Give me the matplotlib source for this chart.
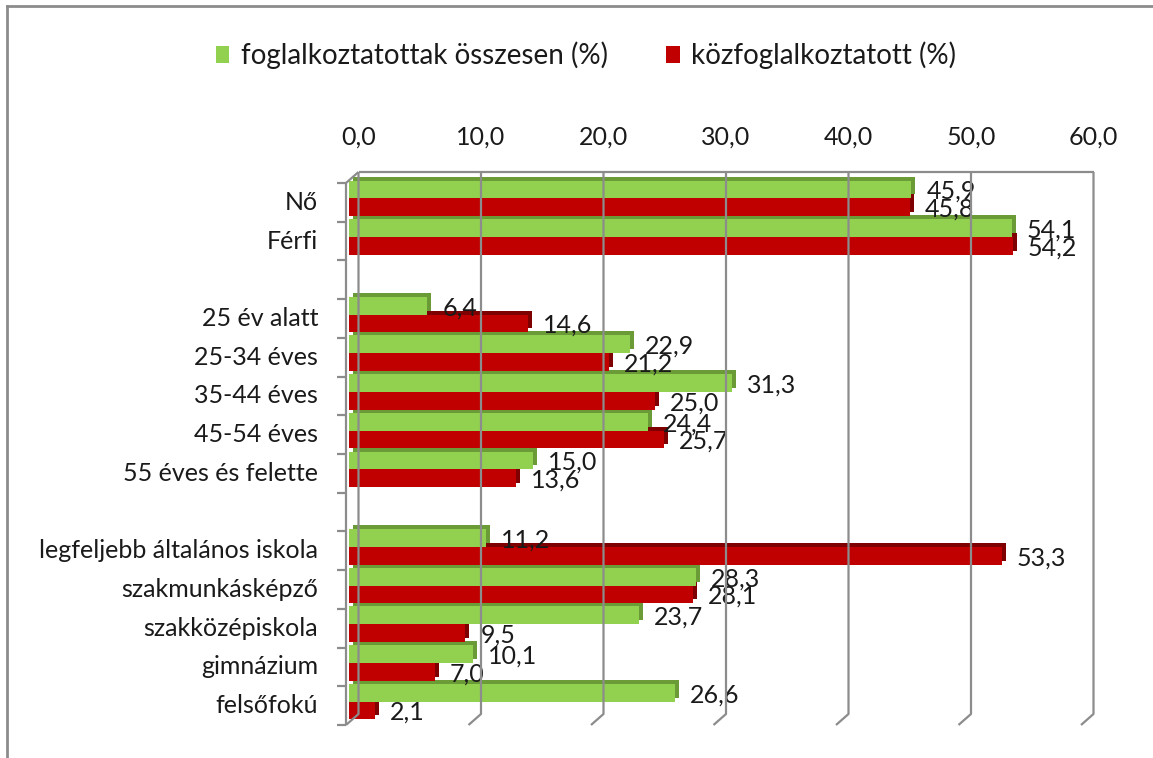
import matplotlib
matplotlib.use("Agg")
import matplotlib.pyplot as plt
from matplotlib.transforms import ScaledTranslation
from matplotlib.patches import Patch
from matplotlib.lines import Line2D

plt.rcParams['font.family'] = ['Lato', 'DejaVu Sans']

categories = ["Nő", "Férfi", "", "25 év alatt", "25-34 éves", "35-44 éves",
              "45-54 éves", "55 éves és felette", "",
              "legfeljebb általános iskola", "szakmunkásképző", "szakközépiskola",
              "gimnázium", "felsőfokú"]
total = [45.9, 54.1, None, 6.4, 22.9, 31.3, 24.4, 15.0, None,
         11.2, 28.3, 23.7, 10.1, 26.6]
public = [45.8, 54.2, None, 14.6, 21.2, 25.0, 25.7, 13.6, None,
          53.3, 28.1, 9.5, 7.0, 2.1]
series_names = ["foglalkoztatottak összesen (%)", "közfoglalkoztatott (%)"]
xticks = [0, 10, 20, 30, 40, 50, 60]

W, H, DPI = 1153, 758, 100
GREEN, GREEN_D = '#92D050', '#6A9B36'
RED, RED_D = '#C00000', '#7E0000'
GRID = '#8C8C8C'
FS = 18

fig = plt.figure(figsize=(W / DPI, H / DPI), dpi=DPI)
ax = fig.add_axes([349 / W, 1 - 721 / H, 735 / W, 542 / H])
n = len(categories)
ax.set_xlim(0, 60)
ax.set_ylim(n - 0.5, -0.5)
ax.axis('off')


def px(dx, dy):
    return ScaledTranslation(dx / DPI, dy / DPI, fig.dpi_scale_trans)


h = 0.46
depth = px(4, 4)
for i in reversed(range(n)):
    z = 10 + (n - i) * 4
    for k, (vals, c, cd, off) in enumerate([(public, RED, RED_D, 0.23),
                                             (total, GREEN, GREEN_D, -0.23)]):
        v = vals[i]
        if v is None:
            continue
        y = i + off
        ax.barh([y], [v], height=h, color=cd, linewidth=0,
                transform=ax.transData + depth, zorder=z + 2 * k, clip_on=False)
        ax.barh([y], [v], height=h, color=c, linewidth=0,
                zorder=z + 2 * k + 1, clip_on=False)
        lab = f"{v:.1f}".replace('.', ',')
        ax.text(v, y, lab, fontsize=FS, ha='left', va='center',
                transform=ax.transData + px(15, -2), zorder=200, color='#1a1a1a')

# decorative 3D frame (pixel coordinates derived from the axes transform)
def to_px(xd, yd):
    X, Y = ax.transData.transform((xd, yd))
    return X, H - Y


def line_px(pts, **kw):
    xs = [p[0] for p in pts]
    ys = [H - p[1] for p in pts]
    fig.add_artist(Line2D(xs, ys, transform=None, color=GRID, lw=1.6,
                          solid_capstyle='butt', zorder=1, **kw))


x0, ytop = to_px(0, -0.5)
x60, ybot = to_px(60, n - 0.5)
BX, BY = 9.5, -7
FX, FY = -3, 4
for t in xticks:
    xt, _ = to_px(t, 0)
    line_px([(xt + BX, ytop + BY), (xt + BX, ybot + BY), (xt + FX, ybot + FY)])
    ax.text(t, -0.5, f"{t:.1f}".replace('.', ','), fontsize=FS, ha='center',
            va='center', transform=ax.transData + px(BX, 42), color='#1a1a1a')
line_px([(x0 + BX, ytop + BY), (x60 + BX, ytop + BY)])
line_px([(x0 + FX, ybot + FY), (x0 + FX, ytop + FY), (x0 + BX, ytop + BY)])
for k in range(n + 1):
    yk = ytop + FY + k * (ybot - ytop) / n
    line_px([(x0 + FX - 9, yk), (x0 + FX, yk)])

for i, c in enumerate(categories):
    if c:
        ax.text(0, i, c, fontsize=FS, ha='right', va='center',
                transform=ax.transData + px(-31, -4), color='#1a1a1a')

handles = [Patch(facecolor=GREEN), Patch(facecolor=RED)]
fig.legend(handles, series_names, loc='center', bbox_to_anchor=(0.508, 0.927),
           ncol=2, frameon=False, fontsize=20, handlelength=0.5,
           handleheight=0.6, handletextpad=0.4, columnspacing=2.1,
           labelcolor='#1a1a1a')

# outer chart border (left and top)
fig.add_artist(Line2D([7 / W, 7 / W], [0, 1 - 6 / H], transform=fig.transFigure,
                      color=GRID, lw=2))
fig.add_artist(Line2D([7 / W, 1], [1 - 6 / H, 1 - 6 / H], transform=fig.transFigure,
                      color=GRID, lw=2))

fig.savefig('out.png', dpi=DPI)
